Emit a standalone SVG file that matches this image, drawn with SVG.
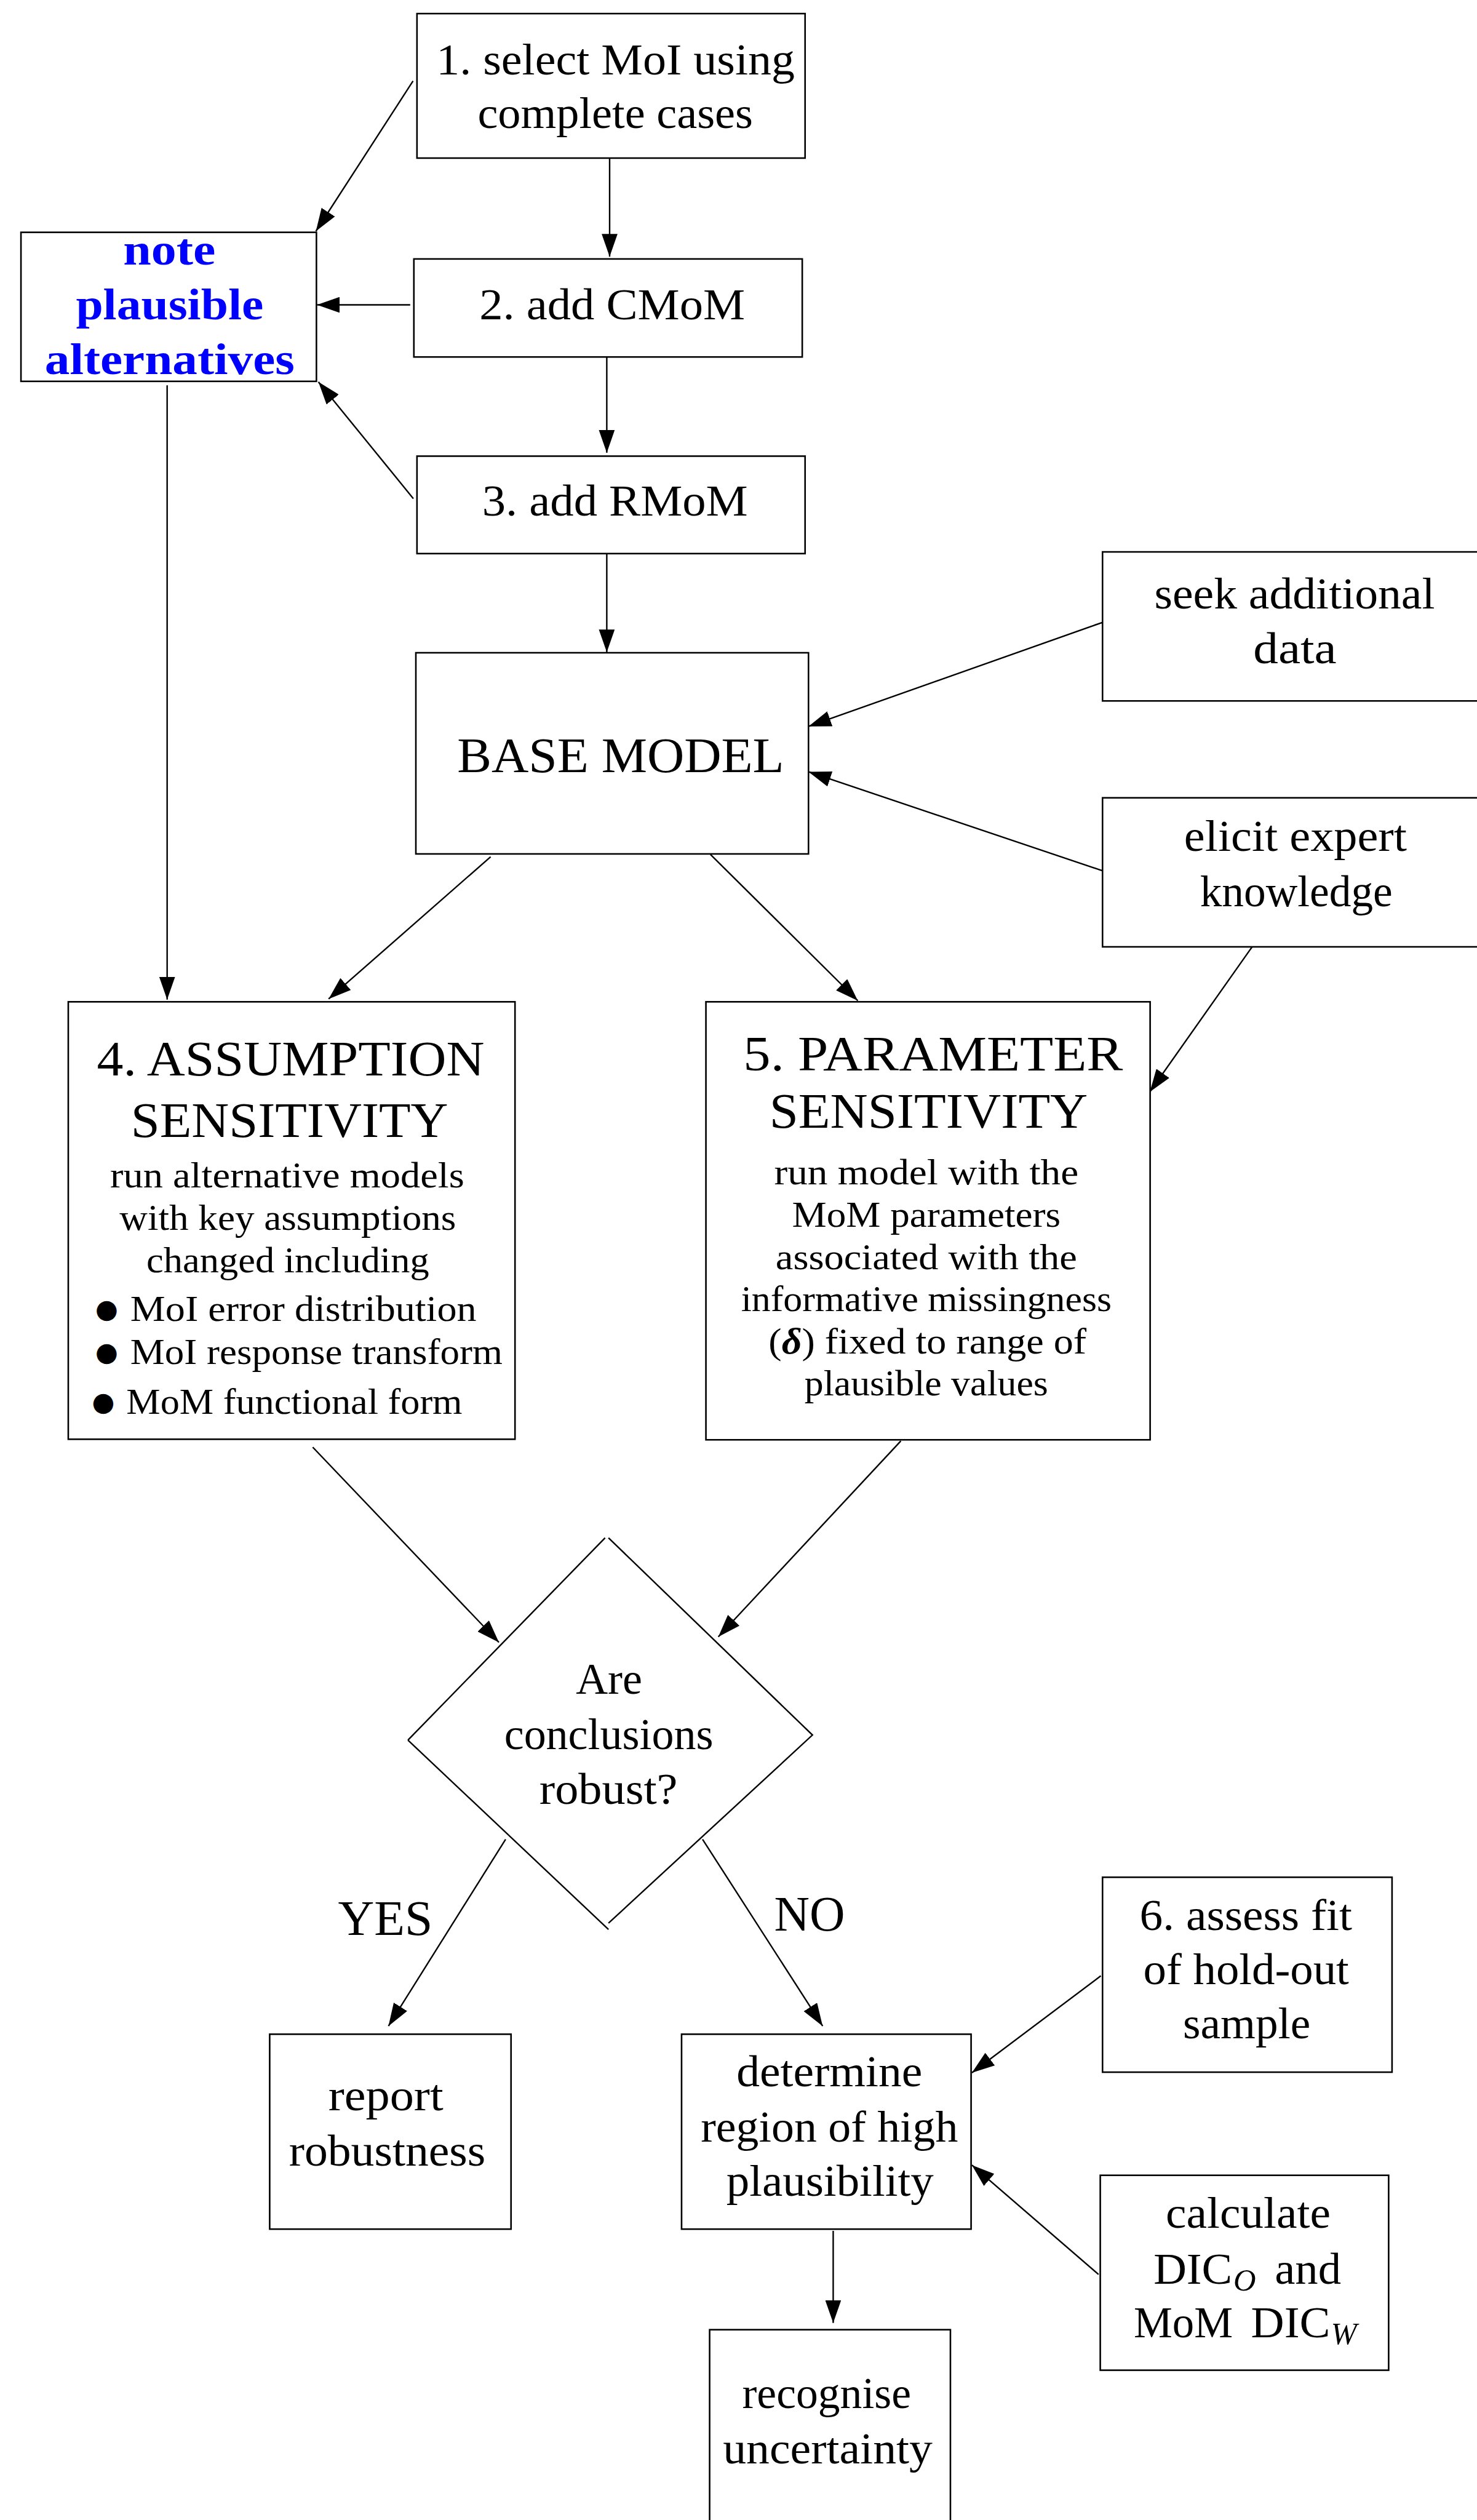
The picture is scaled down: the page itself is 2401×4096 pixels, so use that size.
<svg xmlns="http://www.w3.org/2000/svg" width="2401" height="4096" viewBox="0 0 2401 4096">
<style>
.box{fill:#fff;stroke:#000;stroke-width:2.8}
.ln{stroke:#000;stroke-width:2.6;fill:none}
.edge{stroke:#000;stroke-width:2.6;fill:none;marker-end:url(#ah)}
text{font-family:"Liberation Serif","Times New Roman",serif;fill:#000}
.c{text-anchor:middle}
.n{font-size:78px}
.l{font-size:88px}
.s{font-size:65px}
.blue{fill:#0000ff;font-weight:bold;font-size:78px}
.sub{font-size:55px;font-style:italic}
.bul{font-family:"DejaVu Sans",sans-serif;font-size:46px}
</style>
<defs>
<marker id="ah" markerUnits="userSpaceOnUse" viewBox="0 0 40 28" markerWidth="40" markerHeight="28" refX="40" refY="14" orient="auto">
<path d="M0,0 L40,14 L0,28 z" fill="#000"/>
</marker>
</defs>
<rect x="0" y="0" width="2401" height="4096" fill="#fff"/>
<g transform="scale(0.921)">
<g id="connectors">
<line class="edge" x1="729" y1="143" x2="557.6" y2="408"/>
<line class="edge" x1="1076" y1="279" x2="1076" y2="453"/>
<line class="edge" x1="724" y1="538" x2="559.5" y2="538"/>
<line class="edge" x1="1071" y1="630" x2="1071" y2="799"/>
<line class="edge" x1="729.6" y1="880" x2="562" y2="674"/>
<line class="edge" x1="1071" y1="977" x2="1071" y2="1151"/>
<line class="edge" x1="1947" y1="1098" x2="1427" y2="1282"/>
<line class="edge" x1="1947" y1="1537" x2="1427" y2="1362"/>
<line class="edge" x1="295" y1="680" x2="295" y2="1764"/>
<line class="edge" x1="866" y1="1512" x2="580" y2="1763"/>
<line class="edge" x1="1254" y1="1508" x2="1514" y2="1766"/>
<line class="edge" x1="2210" y1="1671" x2="2029.5" y2="1927"/>
<line class="edge" x1="552" y1="2554" x2="880.6" y2="2898.5"/>
<line class="edge" x1="1590" y1="2543" x2="1267.8" y2="2888.7"/>
<line class="edge" x1="892.4" y1="3246" x2="685.6" y2="3575.6"/>
<line class="edge" x1="1240" y1="3246" x2="1452" y2="3575.6"/>
<line class="edge" x1="1943" y1="3487" x2="1715.5" y2="3658"/>
<line class="edge" x1="1939" y1="4014" x2="1715.5" y2="3821"/>
<line class="edge" x1="1470.6" y1="3937" x2="1470.6" y2="4099.6"/>
</g>
<g id="n1">
<rect class="box" x="736" y="24" width="685" height="255"/>
<text class="n c" x="1086.5" y="131" textLength="633" lengthAdjust="spacingAndGlyphs">1. select MoI using</text>
<text class="n c" x="1086" y="226" textLength="486" lengthAdjust="spacingAndGlyphs">complete cases</text>
</g>
<g id="note">
<rect class="box" x="37" y="410" width="521.5" height="263"/>
<text class="blue c" x="299" y="467" textLength="163" lengthAdjust="spacingAndGlyphs">note</text>
<text class="blue c" x="299.5" y="563" textLength="331" lengthAdjust="spacingAndGlyphs">plausible</text>
<text class="blue c" x="299.5" y="660" textLength="441" lengthAdjust="spacingAndGlyphs">alternatives</text>
</g>
<g id="n2">
<rect class="box" x="730.5" y="457" width="685.5" height="173"/>
<text class="n c" x="1080.5" y="564" textLength="469" lengthAdjust="spacingAndGlyphs">2. add CMoM</text>
</g>
<g id="n3">
<rect class="box" x="736" y="805" width="685" height="172"/>
<text class="n c" x="1085.5" y="910" textLength="469" lengthAdjust="spacingAndGlyphs">3. add RMoM</text>
</g>
<g id="base">
<rect class="box" x="734" y="1152" width="693" height="355"/>
<text class="l c" x="1095.5" y="1363" textLength="577" lengthAdjust="spacingAndGlyphs">BASE MODEL</text>
</g>
<g id="seek">
<rect class="box" x="1946" y="974" width="700" height="263"/>
<text class="n c" x="2285" y="1074" textLength="495" lengthAdjust="spacingAndGlyphs">seek additional</text>
<text class="n c" x="2285.5" y="1171" textLength="147" lengthAdjust="spacingAndGlyphs">data</text>
</g>
<g id="elicit">
<rect class="box" x="1946" y="1408" width="700" height="263"/>
<text class="n c" x="2286.5" y="1502" textLength="393" lengthAdjust="spacingAndGlyphs">elicit expert</text>
<text class="n c" x="2288" y="1599" textLength="340" lengthAdjust="spacingAndGlyphs">knowledge</text>
</g>
<g id="n4">
<rect class="box" x="120.5" y="1768" width="788.5" height="772"/>
<text class="l c" x="513" y="1898" textLength="684" lengthAdjust="spacingAndGlyphs">4. ASSUMPTION</text>
<text class="l c" x="511" y="2006" textLength="560" lengthAdjust="spacingAndGlyphs">SENSITIVITY</text>
<text class="s c" x="507" y="2096" textLength="625" lengthAdjust="spacingAndGlyphs">run alternative models</text>
<text class="s c" x="508" y="2171" textLength="594" lengthAdjust="spacingAndGlyphs">with key assumptions</text>
<text class="s c" x="508" y="2245" textLength="499" lengthAdjust="spacingAndGlyphs">changed including</text>
<text class="bul c" x="188.5" y="2326">●</text>
<text class="s" x="230" y="2331" textLength="611" lengthAdjust="spacingAndGlyphs">MoI error distribution</text>
<text class="bul c" x="188.5" y="2402">●</text>
<text class="s" x="230" y="2407" textLength="657" lengthAdjust="spacingAndGlyphs">MoI response transform</text>
<text class="bul c" x="182.5" y="2490">●</text>
<text class="s" x="223" y="2495" textLength="593" lengthAdjust="spacingAndGlyphs">MoM functional form</text>
</g>
<g id="n5">
<rect class="box" x="1246" y="1768" width="784" height="773"/>
<text class="l c" x="1647" y="1889" textLength="670" lengthAdjust="spacingAndGlyphs">5. PARAMETER</text>
<text class="l c" x="1639" y="1990" textLength="562" lengthAdjust="spacingAndGlyphs">SENSITIVITY</text>
<text class="s c" x="1635" y="2090" textLength="537" lengthAdjust="spacingAndGlyphs">run model with the</text>
<text class="s c" x="1635" y="2165" textLength="474" lengthAdjust="spacingAndGlyphs">MoM parameters</text>
<text class="s c" x="1635" y="2240" textLength="532" lengthAdjust="spacingAndGlyphs">associated with the</text>
<text class="s c" x="1635" y="2314" textLength="654" lengthAdjust="spacingAndGlyphs">informative missingness</text>
<text class="s c" x="1637" y="2389" textLength="561" lengthAdjust="spacingAndGlyphs">(<tspan font-weight="bold" font-style="italic">δ</tspan>) fixed to range of</text>
<text class="s c" x="1635" y="2463" textLength="430" lengthAdjust="spacingAndGlyphs">plausible values</text>
</g>
<g id="decision">
<path class="ln" d="M720,3071 L1068,2714 M1074,2714 L1434,3062 L1074,3394 M1074,3405 L720,3071"/>
<text class="n c" x="1075" y="2989" textLength="117" lengthAdjust="spacingAndGlyphs">Are</text>
<text class="n c" x="1074.5" y="3087" textLength="369" lengthAdjust="spacingAndGlyphs">conclusions</text>
<text class="n c" x="1074" y="3183" textLength="244" lengthAdjust="spacingAndGlyphs">robust?</text>
</g>
<g id="labels">
<text class="l c" x="680" y="3415" textLength="167" lengthAdjust="spacingAndGlyphs">YES</text>
<text class="l c" x="1429" y="3407" textLength="125" lengthAdjust="spacingAndGlyphs">NO</text>
</g>
<g id="report">
<rect class="box" x="476" y="3590" width="426" height="344"/>
<text class="n c" x="681" y="3724" textLength="203" lengthAdjust="spacingAndGlyphs">report</text>
<text class="n c" x="683.5" y="3822" textLength="347" lengthAdjust="spacingAndGlyphs">robustness</text>
</g>
<g id="determine">
<rect class="box" x="1203" y="3590" width="511" height="344"/>
<text class="n c" x="1464" y="3682" textLength="328" lengthAdjust="spacingAndGlyphs">determine</text>
<text class="n c" x="1464" y="3780" textLength="454" lengthAdjust="spacingAndGlyphs">region of high</text>
<text class="n c" x="1465" y="3875" textLength="366" lengthAdjust="spacingAndGlyphs">plausibility</text>
</g>
<g id="assess">
<rect class="box" x="1946" y="3313" width="511" height="344"/>
<text class="n c" x="2199" y="3406" textLength="375" lengthAdjust="spacingAndGlyphs">6. assess fit</text>
<text class="n c" x="2199.5" y="3502" textLength="363" lengthAdjust="spacingAndGlyphs">of hold-out</text>
<text class="n c" x="2200.5" y="3597" textLength="225" lengthAdjust="spacingAndGlyphs">sample</text>
</g>
<g id="calculate">
<rect class="box" x="1942" y="3839" width="509" height="344"/>
<text class="n c" x="2203" y="3932" textLength="291" lengthAdjust="spacingAndGlyphs">calculate</text>
<text class="n"><tspan x="2036" y="4030" textLength="139" lengthAdjust="spacingAndGlyphs">DIC</tspan><tspan class="sub" x="2177" y="4042">O</tspan><tspan x="2250" y="4030" textLength="117" lengthAdjust="spacingAndGlyphs">and</tspan></text>
<text class="n"><tspan x="2001" y="4125" textLength="175" lengthAdjust="spacingAndGlyphs">MoM</tspan><tspan x="2208" y="4125" textLength="140" lengthAdjust="spacingAndGlyphs">DIC</tspan><tspan class="sub" x="2349" y="4137">W</tspan></text>
</g>
<g id="recognise">
<rect class="box" x="1252.5" y="4111.5" width="425" height="500"/>
<text class="n c" x="1459" y="4250" textLength="298" lengthAdjust="spacingAndGlyphs">recognise</text>
<text class="n c" x="1461" y="4347" textLength="370" lengthAdjust="spacingAndGlyphs">uncertainty</text>
</g>
</g>
</svg>
